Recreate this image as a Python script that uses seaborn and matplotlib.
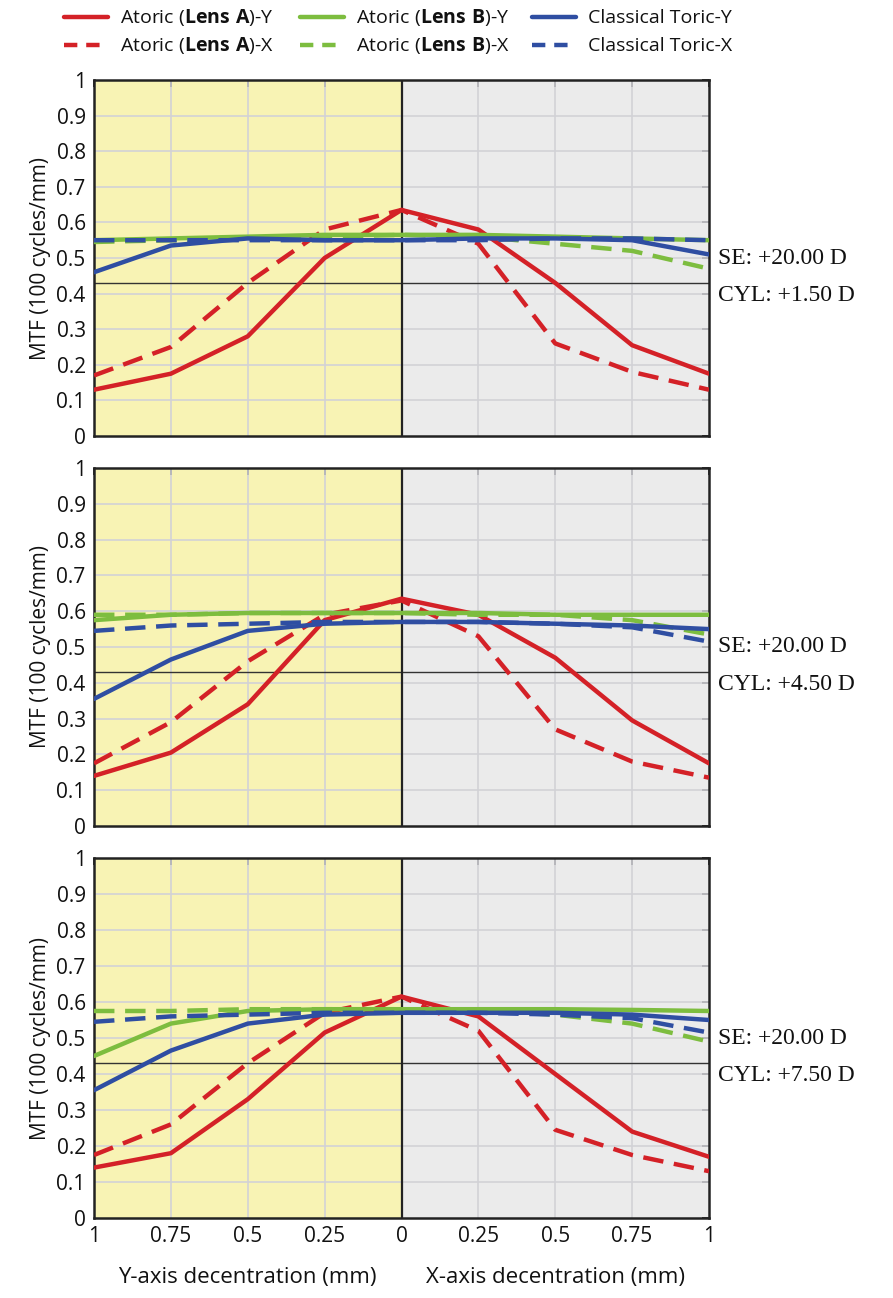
import matplotlib
matplotlib.use("Agg")
import matplotlib.pyplot as plt
import seaborn as sns
import numpy as np
import pandas as pd
from matplotlib.lines import Line2D

sns.set_theme(style="white")
plt.rcParams['font.family'] = ['Open Sans', 'DejaVu Sans']
plt.rcParams['mathtext.fontset'] = 'custom'
plt.rcParams['mathtext.bf'] = 'Open Sans:bold'
plt.rcParams['mathtext.rm'] = 'Open Sans'

# positions: negative = Y-axis decentration, positive = X-axis decentration
positions = [-1, -0.75, -0.5, -0.25, 0, 0.25, 0.5, 0.75, 1]
tick_labels = ["1", "0.75", "0.5", "0.25", "0", "0.25", "0.5", "0.75", "1"]

# Panel 1: CYL +1.50 D
p1_lensA_Y = [0.13, 0.175, 0.28, 0.50, 0.635, 0.58, 0.43, 0.255, 0.175]
p1_lensA_X = [0.17, 0.25, 0.43, 0.58, 0.635, 0.54, 0.26, 0.18, 0.13]
p1_lensB_Y = [0.55, 0.555, 0.56, 0.565, 0.565, 0.565, 0.56, 0.555, 0.55]
p1_lensB_X = [0.545, 0.55, 0.555, 0.56, 0.565, 0.56, 0.54, 0.52, 0.47]
p1_toric_Y = [0.46, 0.535, 0.555, 0.55, 0.55, 0.555, 0.555, 0.55, 0.51]
p1_toric_X = [0.55, 0.55, 0.55, 0.55, 0.55, 0.55, 0.555, 0.555, 0.55]

# Panel 2: CYL +4.50 D
p2_lensA_Y = [0.14, 0.205, 0.34, 0.575, 0.635, 0.59, 0.47, 0.295, 0.175]
p2_lensA_X = [0.175, 0.29, 0.46, 0.59, 0.63, 0.53, 0.27, 0.18, 0.135]
p2_lensB_Y = [0.575, 0.59, 0.595, 0.595, 0.595, 0.595, 0.59, 0.59, 0.59]
p2_lensB_X = [0.59, 0.59, 0.595, 0.595, 0.595, 0.59, 0.59, 0.575, 0.535]
p2_toric_Y = [0.355, 0.465, 0.545, 0.565, 0.57, 0.57, 0.565, 0.56, 0.55]
p2_toric_X = [0.545, 0.56, 0.565, 0.57, 0.57, 0.57, 0.565, 0.555, 0.515]

# Panel 3: CYL +7.50 D
p3_lensA_Y = [0.14, 0.18, 0.33, 0.515, 0.615, 0.56, 0.40, 0.24, 0.17]
p3_lensA_X = [0.175, 0.26, 0.43, 0.57, 0.615, 0.52, 0.245, 0.175, 0.13]
p3_lensB_Y = [0.45, 0.54, 0.575, 0.58, 0.58, 0.58, 0.58, 0.578, 0.575]
p3_lensB_X = [0.575, 0.575, 0.58, 0.58, 0.58, 0.575, 0.565, 0.54, 0.49]
p3_toric_Y = [0.355, 0.465, 0.54, 0.565, 0.57, 0.57, 0.57, 0.565, 0.55]
p3_toric_X = [0.545, 0.56, 0.565, 0.57, 0.57, 0.57, 0.565, 0.555, 0.515]

se_labels = ["SE: +20.00 D", "SE: +20.00 D", "SE: +20.00 D"]
cyl_labels = ["CYL: +1.50 D", "CYL: +4.50 D", "CYL: +7.50 D"]
threshold = 0.43

series_names = [r"Atoric ($\mathbf{Lens\ A}$)-Y", r"Atoric ($\mathbf{Lens\ A}$)-X",
                r"Atoric ($\mathbf{Lens\ B}$)-Y", r"Atoric ($\mathbf{Lens\ B}$)-X",
                "Classical Toric-Y", "Classical Toric-X"]
RED, GREEN, BLUE = "#d42127", "#7dbd3f", "#2f4ea2"
colors = [RED, RED, GREEN, GREEN, BLUE, BLUE]
dashed = [False, True, False, True, False, True]

panels = [
    [p1_lensA_Y, p1_lensA_X, p1_lensB_Y, p1_lensB_X, p1_toric_Y, p1_toric_X],
    [p2_lensA_Y, p2_lensA_X, p2_lensB_Y, p2_lensB_X, p2_toric_Y, p2_toric_X],
    [p3_lensA_Y, p3_lensA_X, p3_lensB_Y, p3_lensB_X, p3_toric_Y, p3_toric_X],
]

W, H = 893, 1298
fig = plt.figure(figsize=(W / 100, H / 100), dpi=100)
ax_rects = [
    [94/W, 1 - 436/H, 615/W, 356/H],
    [94/W, 1 - 826/H, 615/W, 358/H],
    [94/W, 1 - 1218/H, 615/W, 360/H],
]
LW = 3.2
for pi, (rect, series) in enumerate(zip(ax_rects, panels)):
    ax = fig.add_axes(rect)
    ax.set_facecolor("#ebebeb")
    ax.axvspan(-1, 0, color="#f8f3b4", zorder=0, lw=0)
    for g in [-0.75, -0.5, -0.25, 0.25, 0.5, 0.75]:
        ax.axvline(g, color="#d2d2d6", lw=1.2, zorder=1)
    for g in np.arange(0.1, 1.0, 0.1):
        ax.axhline(g, color="#d2d2d6", lw=1.2, zorder=1)
    ax.axhline(threshold, color="#333333", lw=1.0, zorder=2)
    ax.axvline(0, color="#222222", lw=1.6, zorder=2)
    for vals, c, d in zip(series, colors, dashed):
        df = pd.DataFrame({"pos": positions, "mtf": vals})
        kw = dict(dashes=(4.6, 2.4)) if d else {}
        sns.lineplot(data=df, x="pos", y="mtf", ax=ax, color=c, lw=LW,
                     zorder=3, legend=False, **kw)
    ax.set_xlim(-1, 1)
    ax.set_ylim(0, 1)
    ax.set_xticks(positions)
    ax.set_yticks(np.round(np.arange(0, 1.01, 0.1), 1))
    ax.set_yticklabels(["0"] + [f"{v:.1f}" for v in np.arange(0.1, 0.95, 0.1)] + ["1"])
    ax.tick_params(direction="in", length=5, width=1.3, color="#222222",
                   top=True, right=True, labelsize=15, pad=6, colors="#222222")
    ax.tick_params(axis="both", labelcolor="#111111")
    if pi < 2:
        ax.set_xticklabels([])
    else:
        ax.set_xticklabels(tick_labels)
    ax.set_xlabel("")
    ax.set_ylabel("MTF (100 cycles/mm)", fontsize=15, labelpad=4, color="#111111")
    for s in ax.spines.values():
        s.set_visible(True)
        s.set_color("#222222")
        s.set_linewidth(1.8)
    ax.text(1.015, 0.50, se_labels[pi], transform=ax.transAxes, fontsize=17,
            family="Liberation Serif", va="center", ha="left", color="#111111")
    ax.text(1.015, 0.395, cyl_labels[pi], transform=ax.transAxes, fontsize=17,
            family="Liberation Serif", va="center", ha="left", color="#111111")
    if pi == 2:
        ax.text(0.25, -0.165, "Y-axis decentration (mm)", transform=ax.transAxes,
                ha="center", va="center", fontsize=16, color="#111111")
        ax.text(0.75, -0.165, "X-axis decentration (mm)", transform=ax.transAxes,
                ha="center", va="center", fontsize=16, color="#111111")

# manual legend (3 columns x 2 rows) so rows align across columns
col_handle_x = [64, 300, 532]
handle_len = 44
row_y = [17, 45]
for i, (name, c, d) in enumerate(zip(series_names, colors, dashed)):
    col, row = i // 2, i % 2
    x0 = col_handle_x[col]
    y = 1 - row_y[row] / H
    ln = Line2D([x0 / W, (x0 + handle_len) / W], [y, y], transform=fig.transFigure,
                color=c, lw=LW, linestyle=(0, (3, 2)) if d else "-")
    fig.add_artist(ln)
    fig.text((x0 + handle_len + 12) / W, 1 - (row_y[row] + 6) / H, name,
             fontsize=14, va="baseline", ha="left", color="#111111")

fig.savefig("out.png", dpi=100)
